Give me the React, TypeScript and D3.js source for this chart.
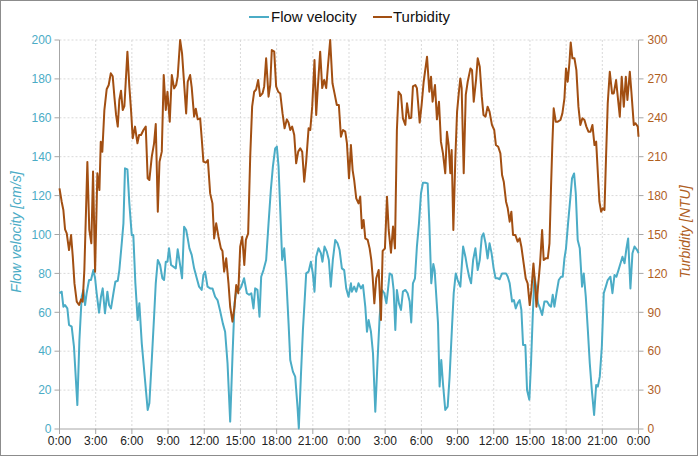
import React from "react";
import * as d3 from "d3";

const flowData: [number, number][] = [
[0,69.8],[0.18,70.6],[0.32,62.9],[0.46,63.7],[0.65,62],[0.79,53.5],[1.01,52.6],[1.2,42.3],[1.48,12.3],[1.65,45.8],[1.84,68],[1.98,71.5],[2.12,63.7],[2.25,69.8],[2.45,76.6],[2.61,76.6],[2.81,81.7],[2.95,77.5],[3.08,69.8],[3.28,59.8],[3.44,68],[3.58,72.3],[3.77,59.5],[3.97,70.6],[4.11,63.7],[4.27,62],[4.47,69.8],[4.63,75.7],[4.83,76.2],[4.96,81.7],[5.16,95.5],[5.3,105.7],[5.43,134],[5.63,133.5],[5.79,116],[5.99,99.7],[6.12,99.7],[6.29,74.9],[6.48,56],[6.62,64.6],[6.82,44],[7.09,25.2],[7.31,9.8],[7.45,13.2],[7.65,35.5],[7.84,57.7],[7.98,74.9],[8.15,86.9],[8.34,84.3],[8.53,77.5],[8.67,76.6],[8.81,86],[8.95,86],[9.08,92.9],[9.25,84.3],[9.44,83.5],[9.64,82.6],[9.8,92.4],[10,84.3],[10.16,77.5],[10.33,104],[10.5,102.3],[10.63,98],[10.77,92.9],[10.96,89.5],[11.16,82.6],[11.38,77.5],[11.57,73.2],[11.79,71.5],[11.93,79.2],[12.07,80.9],[12.27,73.2],[12.49,72.3],[12.68,72.3],[12.9,68],[13.1,66.3],[13.3,61.2],[13.54,54.3],[13.73,50],[13.93,33.8],[14.15,3.8],[14.34,37.2],[14.51,64.6],[14.7,73.2],[14.9,71.5],[15.07,73.2],[15.3,77.5],[15.53,69.8],[15.72,69],[15.9,69.8],[16.08,62],[16.22,72.3],[16.41,71.5],[16.58,57.7],[16.72,78.3],[16.91,81.7],[17.13,86.9],[17.33,105.7],[17.52,122.9],[17.69,134.9],[17.88,144.3],[18.02,145.2],[18.16,134.9],[18.3,112.6],[18.46,86.9],[18.63,92.9],[18.8,77.5],[18.99,54.3],[19.13,35.5],[19.35,29.5],[19.54,26.9],[19.73,11.5],[19.84,0.3],[20.01,26.9],[20.18,50.9],[20.31,64.6],[20.45,80],[20.65,80.9],[20.84,86],[21,80],[21.14,70.6],[21.28,88.6],[21.47,92.9],[21.67,90.4],[21.8,86],[21.97,93.8],[22.16,91.2],[22.33,86.9],[22.49,73.2],[22.66,86.9],[22.86,97.2],[23.05,95.5],[23.22,92],[23.41,82.6],[23.6,81.7],[23.77,72.3],[23.96,68],[24.16,74.9],[24.24,70.6],[24.43,73.2],[24.6,70.6],[24.79,74.9],[24.99,72.3],[25.16,74],[25.35,62.9],[25.49,50],[25.63,56],[25.82,50],[25.99,38.9],[26.18,8.9],[26.37,35.5],[26.54,57.7],[26.73,71.5],[26.93,69.8],[27.1,64.6],[27.23,71.5],[27.37,80],[27.56,79.2],[27.7,71.5],[27.84,50.9],[27.97,71.5],[28.14,64.6],[28.31,61.2],[28.47,70.6],[28.67,71.5],[28.86,69.8],[29.03,65.5],[29.16,54.8],[29.3,74.9],[29.47,77.5],[29.63,93.8],[29.8,105.7],[29.97,121.2],[30.13,126.6],[30.33,126.6],[30.52,126.3],[30.66,105.7],[30.82,74.9],[30.99,84.8],[31.1,81.7],[31.24,68],[31.38,54.3],[31.51,21.8],[31.65,35.5],[31.79,23.4],[31.98,9.8],[32.18,11.5],[32.34,26.9],[32.54,52.6],[32.68,69.8],[32.85,80],[33.01,76.6],[33.23,73.2],[33.46,93.8],[33.65,88.6],[33.79,83.5],[33.96,78.3],[34.12,74.9],[34.29,86.9],[34.48,92.9],[34.67,81.7],[34.84,86.9],[35.01,98.9],[35.15,100.6],[35.32,95.5],[35.49,87.7],[35.65,95.5],[35.82,90.4],[35.99,82.6],[36.15,77.5],[36.32,77.5],[36.49,77],[36.69,80],[37.02,80],[37.16,78.3],[37.32,74.9],[37.52,65.5],[37.67,66.3],[37.82,62],[37.98,64.6],[38.15,66.3],[38.29,61.2],[38.43,43.2],[38.62,43.2],[38.76,20],[38.95,15],[39.09,33.8],[39.23,57.7],[39.37,78.3],[39.51,73.2],[39.67,64.6],[39.84,62],[40.01,58.6],[40.2,65.5],[40.42,65.5],[40.59,63.7],[40.75,62.9],[40.89,69],[41.03,62.9],[41.2,69.8],[41.39,76.6],[41.58,78.3],[41.72,78.3],[41.86,87.7],[41.99,92.9],[42.16,105.7],[42.36,119.5],[42.49,128.9],[42.66,131.4],[42.8,121.2],[42.96,97.2],[43.13,92.9],[43.32,73.2],[43.46,80],[43.63,68],[43.8,50.9],[43.96,33.8],[44.13,20],[44.32,7.2],[44.49,22.6],[44.63,21.8],[44.79,26.9],[44.96,42.3],[45.12,69.8],[45.29,73.2],[45.45,76.6],[45.67,78.3],[45.84,69.8],[46.01,79.2],[46.17,78.3],[46.34,81.7],[46.51,85.2],[46.67,88.6],[46.84,85.2],[47,92.9],[47.14,98],[47.33,72.3],[47.5,90.4],[47.67,93.8],[47.89,92],[48,90.4]
];

const turbidityData: [number, number][] = [
[0,185.6],[0.18,175.3],[0.32,168.9],[0.46,154],[0.6,150.9],[0.79,138],[0.96,149.6],[1.1,132.9],[1.24,112.3],[1.43,98.2],[1.62,95.6],[1.79,100],[1.92,98.2],[2.06,122.6],[2.2,169],[2.31,206],[2.47,153.5],[2.64,143.2],[2.78,198.5],[2.95,121.3],[3.14,197.2],[3.31,184.3],[3.42,221.6],[3.55,213.9],[3.72,246],[3.91,262],[4.08,265.3],[4.25,274.3],[4.41,272],[4.55,256.3],[4.69,242.2],[4.83,233.2],[4.96,253.7],[5.1,260.9],[5.24,246],[5.38,249],[5.63,291],[5.79,264],[5.93,246],[6.07,224.2],[6.26,233.2],[6.46,220.3],[6.6,226.7],[6.76,226.7],[6.96,230.6],[7.15,233.2],[7.31,193.3],[7.45,192],[7.65,210],[7.84,220.3],[7.98,235.2],[8.15,167.6],[8.29,206],[8.48,213.9],[8.64,273],[8.81,246],[8.95,260],[9.14,237],[9.31,273],[9.5,262.7],[9.67,265.3],[9.8,272],[10,300],[10.16,289.7],[10.33,266.6],[10.5,243.4],[10.63,267.8],[10.83,273],[10.96,263.5],[11.16,240.9],[11.3,247],[11.46,238.8],[11.66,239.6],[11.8,222.9],[11.93,206.2],[12.13,205.4],[12.3,207.4],[12.49,181.7],[12.68,174],[12.82,147],[12.99,158.6],[13.18,148.3],[13.38,139.3],[13.51,137.3],[13.65,121.3],[13.82,131.6],[14.01,112.3],[14.15,94.3],[14.34,82.8],[14.51,94.3],[14.65,111],[14.82,104.6],[14.98,140.6],[15.15,148.3],[15.32,126.5],[15.45,145.8],[15.64,150.9],[15.81,210],[15.97,248.6],[16.14,260.1],[16.3,261.8],[16.47,269.1],[16.63,256.8],[16.83,258.8],[16.97,264.2],[17.13,285.9],[17.33,256.3],[17.47,265.3],[17.6,292.3],[17.8,291],[17.96,264.2],[18.13,260.1],[18.3,258.8],[18.49,243.4],[18.66,231.9],[18.85,238.8],[18.99,236.3],[19.13,230.6],[19.29,233.2],[19.46,226.7],[19.62,204.9],[19.79,213.9],[19.96,216.5],[20.12,213.9],[20.29,190.7],[20.45,206.2],[20.65,231.9],[20.79,230.6],[20.95,248.6],[21.14,284.6],[21.28,242.2],[21.42,264.2],[21.61,291],[21.78,262.9],[21.94,269.1],[22.11,262.9],[22.25,279.4],[22.44,300],[22.63,266.6],[22.8,258.8],[22.99,249.9],[23.16,249.9],[23.33,225.4],[23.5,230.6],[23.69,229.3],[23.83,220.3],[24,193.3],[24.16,219],[24.3,199.7],[24.43,192],[24.6,177.9],[24.79,174],[24.93,179.2],[25.07,154.8],[25.21,161.2],[25.35,147],[25.55,145.8],[25.71,139.3],[25.85,130.3],[25.96,117.5],[26.1,96.9],[26.26,116.2],[26.46,122.6],[26.65,84.1],[26.79,137.3],[26.98,139.3],[27.15,179.2],[27.29,153.5],[27.48,136],[27.65,156.1],[27.81,139.3],[27.97,230.6],[28.11,260.1],[28.31,257.6],[28.47,239.6],[28.67,234.5],[28.81,251.2],[29,239.6],[29.16,240],[29.3,264.2],[29.5,265.3],[29.63,262.9],[29.86,236.3],[30.02,249.9],[30.19,267.8],[30.47,287.1],[30.66,260.1],[30.8,271.7],[30.93,252.4],[31.13,265.3],[31.29,238.8],[31.46,252.4],[31.62,221.6],[31.79,212.6],[31.98,197.2],[32.12,229.3],[32.26,219],[32.4,197.2],[32.51,215.2],[32.65,153.5],[32.82,210],[32.96,244.8],[33.1,258.8],[33.23,270.4],[33.34,262.9],[33.51,197.2],[33.68,257.6],[33.84,267.8],[34.07,278.1],[34.2,276.8],[34.34,252.4],[34.53,269.1],[34.67,285.9],[34.84,279.4],[35.01,256.3],[35.15,242.2],[35.32,240.9],[35.49,248.6],[35.65,244.8],[35.85,234.5],[36.04,230.6],[36.18,219],[36.37,217.7],[36.55,212.6],[36.69,195.9],[36.83,190.7],[37.02,175.3],[37.16,170.2],[37.32,159.9],[37.46,167.6],[37.6,149.6],[37.79,149.6],[37.98,144.5],[38.15,147],[38.29,140.6],[38.48,127.7],[38.65,116.2],[38.81,112.3],[38.98,95.6],[39.12,107.1],[39.29,127.7],[39.4,114.8],[39.54,94.3],[39.67,109.7],[39.84,127.7],[40.01,153.5],[40.14,130.3],[40.31,131.6],[40.48,131.6],[40.62,143.2],[40.75,187],[40.86,220.3],[40.97,247.3],[41.14,237],[41.31,237],[41.53,238.3],[41.69,243.4],[41.86,255],[41.99,278.1],[42.13,267.8],[42.27,282],[42.38,298.1],[42.52,285.9],[42.69,285.9],[42.85,276.8],[43.02,248.6],[43.18,234.5],[43.35,239.6],[43.52,238.3],[43.68,233.2],[43.85,229.3],[44.02,229.3],[44.18,234.5],[44.35,219],[44.49,221.6],[44.63,197.2],[44.76,175.3],[44.9,167.6],[45.04,170.2],[45.18,168.9],[45.31,210],[45.45,251.2],[45.62,275.5],[45.81,258.8],[45.95,258.8],[46.14,269.1],[46.28,256.3],[46.45,240.9],[46.61,271.7],[46.78,248.6],[46.95,271.7],[47.08,253.7],[47.28,275.5],[47.41,260.1],[47.61,234.5],[47.75,235.8],[47.94,233.2],[48,225.4]
];

const xTickHours = [0, 3, 6, 9, 12, 15, 18, 21, 24, 27, 30, 33, 36, 39, 42, 45, 48];
const xTickLabels = ["0:00","3:00","6:00","9:00","12:00","15:00","18:00","21:00","0:00","3:00","6:00","9:00","12:00","15:00","18:00","21:00","0:00"];
const leftTicks = [0, 20, 40, 60, 80, 100, 120, 140, 160, 180, 200];
const rightTicks = [0, 30, 60, 90, 120, 150, 180, 210, 240, 270, 300];

const W = 698, H = 456;
const L = 59.5, R = 638.5, T = 40, B = 429;
const FLOW = "#4bacc6";
const TURB = "#a24f12";
const TURB_TXT = "#b0601f";
const FONT = "'Liberation Sans', Arial, sans-serif";

export default function App() {
  const x = d3.scaleLinear().domain([0, 48]).range([L, R]);
  const yL = d3.scaleLinear().domain([0, 200]).range([B, T]);
  const yR = d3.scaleLinear().domain([0, 300]).range([B, T]);
  const flowLine = d3.line<[number, number]>().x(d => x(d[0])).y(d => yL(d[1]));
  const turbLine = d3.line<[number, number]>().x(d => x(d[0])).y(d => yR(d[1]));
  const midY = 232;

  return (
    <svg width={W} height={H} style={{ position: "absolute", left: 0, top: 0, background: "#fff" }} fontFamily={FONT}>
      <rect x={0.5} y={0.5} width={W - 1} height={H - 1} fill="#fff" stroke="#8c8c8c" />
      {/* grid */}
      {leftTicks.slice(1).map(v => (
        <line key={"h" + v} x1={L} x2={R} y1={yL(v)} y2={yL(v)} stroke="#d9d9d9" strokeDasharray="2,2" />
      ))}
      {xTickHours.slice(1, -1).map(h => (
        <line key={"v" + h} x1={x(h)} x2={x(h)} y1={T} y2={B} stroke="#d9d9d9" strokeDasharray="2,2" />
      ))}
      {/* axes */}
      <line x1={L} x2={L} y1={T} y2={B} stroke="#a6a6a6" />
      <line x1={R} x2={R} y1={T} y2={B} stroke="#a6a6a6" />
      <line x1={L} x2={R} y1={B} y2={B} stroke="#a6a6a6" />
      {leftTicks.map(v => (
        <g key={"lt" + v}>
          <line x1={L - 5} x2={L} y1={yL(v)} y2={yL(v)} stroke="#a6a6a6" />
          <text x={L - 8} y={yL(v)} dy="0.35em" textAnchor="end" fontSize={12} fill={FLOW}>{v}</text>
        </g>
      ))}
      {rightTicks.map(v => (
        <g key={"rt" + v}>
          <line x1={R} x2={R + 5} y1={yR(v)} y2={yR(v)} stroke="#a6a6a6" />
          <text x={R + 9} y={yR(v)} dy="0.35em" textAnchor="start" fontSize={12} fill={TURB_TXT}>{v}</text>
        </g>
      ))}
      {xTickHours.map((h, i) => (
        <g key={"xt" + i}>
          <line x1={x(h)} x2={x(h)} y1={B} y2={B + 5} stroke="#a6a6a6" />
          <text x={x(h)} y={B + 16} textAnchor="middle" fontSize={12} fill="#222">{xTickLabels[i]}</text>
        </g>
      ))}
      {/* series */}
      <path d={flowLine(flowData) || ""} fill="none" stroke={FLOW} strokeWidth={2} strokeLinejoin="round" />
      <path d={turbLine(turbidityData) || ""} fill="none" stroke={TURB} strokeWidth={2} strokeLinejoin="round" />
      {/* axis titles */}
      <text transform={`translate(16,${midY}) rotate(-90)`} textAnchor="middle" dy="0.35em" fontSize={14} fontStyle="italic" fill={FLOW}>Flow velocity [cm/s]</text>
      <text transform={`translate(685,${midY}) rotate(-90)`} textAnchor="middle" dy="0.35em" fontSize={14} fontStyle="italic" fill={TURB_TXT}>Turbidity [NTU]</text>
      {/* legend */}
      <line x1={249} x2={269} y1={17} y2={17} stroke={FLOW} strokeWidth={2} />
      <text x={271} y={17} dy="0.35em" fontSize={15} fill="#111">Flow velocity</text>
      <line x1={373} x2={392} y1={17} y2={17} stroke={TURB} strokeWidth={2} />
      <text x={393} y={17} dy="0.35em" fontSize={15} fill="#111">Turbidity</text>
    </svg>
  );
}
